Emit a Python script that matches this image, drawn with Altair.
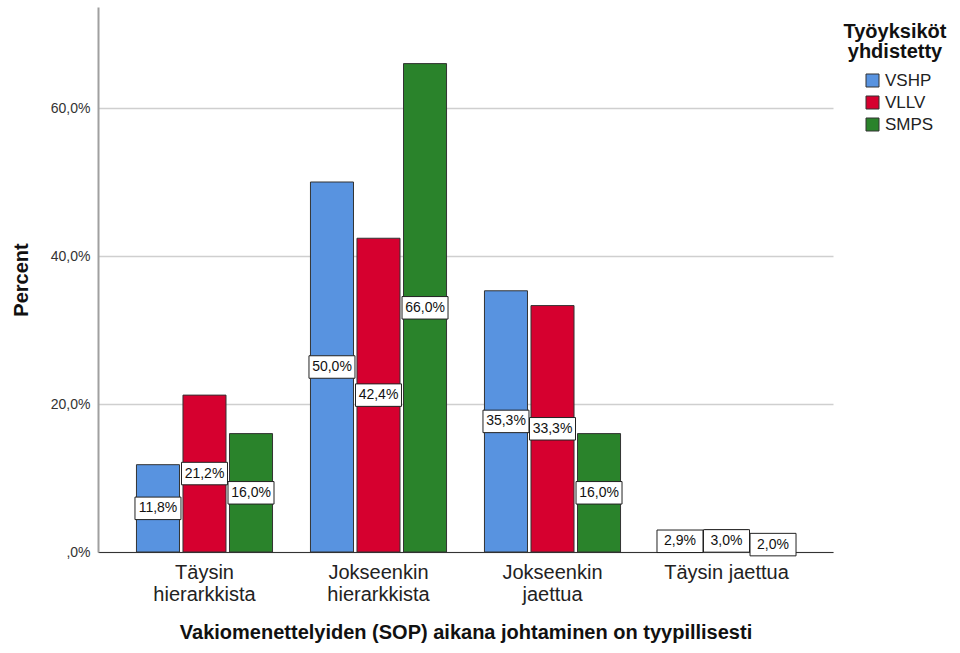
import altair as alt
import pandas as pd

# Response categories (x axis) and work-unit groups (series)
categories = ["Täysin hierarkkista", "Jokseenkin hierarkkista", "Jokseenkin jaettua", "Täysin jaettua"]
groups = ["VSHP", "VLLV", "SMPS"]
colors = ["#5893E0", "#D6002F", "#2A832B"]

# Percent of respondents per group, in category order
vshp = [11.8, 50.0, 35.3, 2.9]
vllv = [21.2, 42.4, 33.3, 3.0]
smps = [16.0, 66.0, 16.0, 2.0]

y_ticks = [0, 20, 40, 60]

rows = []
for g, vals in zip(groups, [vshp, vllv, smps]):
    for c, v in zip(categories, vals):
        rows.append({
            "kategoria": c,
            "ryhma": g,
            "prosentti": v,
            "keski": v / 2,
            "teksti": f"{v:.1f}".replace(".", ",") + "%",
        })
df = pd.DataFrame(rows)

FONT = "Liberation Sans"

x_enc = alt.X(
    "kategoria:N",
    sort=categories,
    scale=alt.Scale(paddingInner=0.218, paddingOuter=0.221),
    axis=alt.Axis(
        title="Vakiomenettelyiden (SOP) aikana johtaminen on tyypillisesti",
        labelAngle=0,
        labelFontSize=20,
        labelColor="#222",
        labelLineHeight=22,
        labelPadding=10,
        labelExpr="indexof(datum.value, 'jaettua') > 0 && indexof(datum.value, 'Täysin') == 0 ? datum.value : split(datum.value, ' ')",
        ticks=False,
        domainColor="#333",
        domainWidth=1,
        titleFontSize=20,
        titleFontWeight="bold",
        titleColor="#111",
        titlePadding=18,
    ),
)
xoff_enc = alt.XOffset(
    "ryhma:N",
    sort=groups,
    scale=alt.Scale(paddingInner=0.075, paddingOuter=0),
)

bars = alt.Chart(df).mark_bar(stroke="#333", strokeWidth=1).encode(
    x=x_enc,
    xOffset=xoff_enc,
    y=alt.Y(
        "prosentti:Q",
        scale=alt.Scale(domain=[0, 73.65], nice=False),
        axis=alt.Axis(
            title="Percent",
            values=y_ticks,
            labelExpr="datum.value == 0 ? ',0%' : replace(format(datum.value, '.1f'), '.', ',') + '%'",
            labelFontSize=14,
            labelColor="#333",
            labelPadding=8,
            ticks=False,
            grid=True,
            gridColor="#cfcfcf",
            gridWidth=1.5,
            domainColor="#a0a0a0",
            domainWidth=2,
            titleFontSize=20,
            titleFontWeight="bold",
            titleColor="#111",
            titlePadding=19,
        ),
    ),
    color=alt.Color(
        "ryhma:N",
        sort=groups,
        scale=alt.Scale(domain=groups, range=colors),
        legend=alt.Legend(
            title=None,
            orient="none",
            legendX=766,
            legendY=65,
            symbolType="square",
            symbolSize=169,
            symbolStrokeColor="#333",
            symbolStrokeWidth=1,
            symbolOpacity=1,
            labelFontSize=17,
            labelColor="#222",
            labelOffset=4,
            rowPadding=4,
            padding=0,
        ),
    ),
)

box_shape = "M-1,-0.489L1,-0.489L1,0.489L-1,0.489Z"

boxes = alt.Chart(df).mark_point(
    shape=box_shape, size=2116, filled=True, fill="white", stroke="#222",
    strokeWidth=1, opacity=1,
).encode(
    x=alt.X("kategoria:N", sort=categories),
    xOffset=alt.XOffset("ryhma:N", sort=groups),
    y=alt.Y("keski:Q"),
)

labels = alt.Chart(df).mark_text(
    fontSize=14, color="#111", align="center", baseline="middle", font=FONT,
).encode(
    x=alt.X("kategoria:N", sort=categories),
    xOffset=alt.XOffset("ryhma:N", sort=groups),
    y=alt.Y("keski:Q"),
    text="teksti:N",
)

heading = alt.Chart(alt.Data(values=[{"otsikko": "Työyksiköt"}])).mark_text(
    text=["Työyksiköt", "yhdistetty"],
    fontSize=20,
    fontWeight="bold",
    font=FONT,
    color="#111",
    align="center",
    baseline="alphabetic",
    lineHeight=20,
).encode(x=alt.value(797), y=alt.value(31))

chart = alt.layer(bars, boxes, labels, heading).properties(
    width=735,
    height=545,
    autosize=alt.AutoSizeParams(type="none"),
    padding={"left": 98, "top": 7, "right": 127, "bottom": 101},
).configure(
    font=FONT,
).configure_view(
    stroke=None,
)

chart.save("out.html", embed_options={"renderer": "svg", "actions": False})
